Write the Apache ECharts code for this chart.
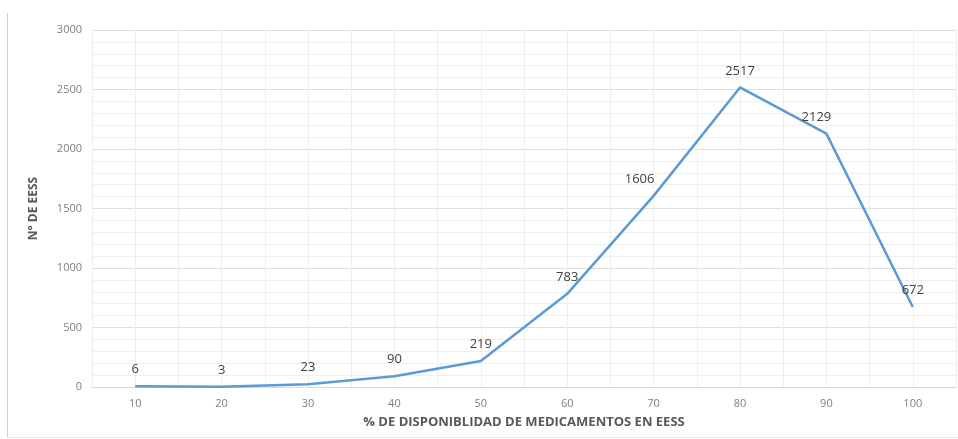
<!DOCTYPE html>
<html><head><meta charset="utf-8">
<script src="https://cdn.jsdelivr.net/npm/echarts@6/dist/echarts.min.js"></script>
<style>html,body{margin:0;padding:0;background:#fff}#c{width:958px;height:439px}</style>
</head><body><div id="c"></div>
<script>
const categories = ['10','20','30','40','50','60','70','80','90','100'];
const values = [6, 3, 23, 90, 219, 783, 1606, 2517, 2129, 672];
const yTicks = [0, 500, 1000, 1500, 2000, 2500, 3000];
const xTitle = '% DE DISPONIBLIDAD DE MEDICAMENTOS EN EESS';
const yTitle = 'N° DE EESS';

const labelOffsets = {6: [-14, 0], 8: [-10, 0], 9: [0, 0]};
const font = '"Open Sans", sans-serif';
const data = values.map((v, i) => {
  const o = labelOffsets[i];
  return o ? {value: v, label: {offset: o}} : v;
});

const chart = echarts.init(document.getElementById('c'), null, {renderer: 'canvas'});
chart.setOption({
  animation: false,
  backgroundColor: '#fff',
  grid: {left: 92, right: 2, top: 30, bottom: 52, containLabel: false},
  xAxis: [{
    type: 'category', data: categories, boundaryGap: true,
    axisLine: {show: true, lineStyle: {color: '#d9d9d9'}},
    axisTick: {show: false},
    axisLabel: {color: '#7f7f7f', fontSize: 11, margin: 11, fontFamily: font},
    splitLine: {show: false},
    name: xTitle, nameLocation: 'middle', nameGap: 29,
    nameTextStyle: {color: '#595959', fontSize: 13, fontWeight: 'bold', fontFamily: font}
  }, {
    type: 'value', min: 0, max: 20, interval: 1, position: 'bottom',
    axisLine: {show: false}, axisTick: {show: false}, axisLabel: {show: false},
    splitLine: {show: true, lineStyle: {color: '#eef0f0', width: 1}}
  }],
  yAxis: {
    type: 'value', min: yTicks[0], max: yTicks[yTicks.length - 1], interval: 500,
    axisLine: {show: false}, axisTick: {show: false},
    axisLabel: {color: '#7f7f7f', fontSize: 11, margin: 10, fontFamily: font, formatter: v => String(v)},
    splitLine: {show: true, lineStyle: {color: '#dcdfe0', width: 1}},
    minorTick: {show: false, splitNumber: 5},
    minorSplitLine: {show: true, lineStyle: {color: '#eef0f0', width: 1}},
    name: yTitle, nameLocation: 'middle', nameGap: 52, nameRotate: 90,
    nameTextStyle: {color: '#595959', fontSize: 12, fontWeight: 'bold', fontFamily: font}
  },
  graphic: [
    {type: 'line', shape: {x1: 7.5, y1: 13, x2: 7.5, y2: 437.5}, style: {stroke: '#d0d0d0', lineWidth: 1}},
    {type: 'line', shape: {x1: 7.5, y1: 437.5, x2: 958, y2: 437.5}, style: {stroke: '#e6e6e6', lineWidth: 1}}
  ],
  series: [{
    type: 'line', xAxisIndex: 0, data: data,
    showSymbol: true, symbol: 'circle', symbolSize: 2,
    itemStyle: {color: 'rgba(0,0,0,0)', borderWidth: 0},
    lineStyle: {color: '#5b9bd5', width: 2.5},
    label: {show: true, position: 'top', distance: 9, color: '#404040', fontSize: 13, fontFamily: font}
  }]
});
</script></body></html>
